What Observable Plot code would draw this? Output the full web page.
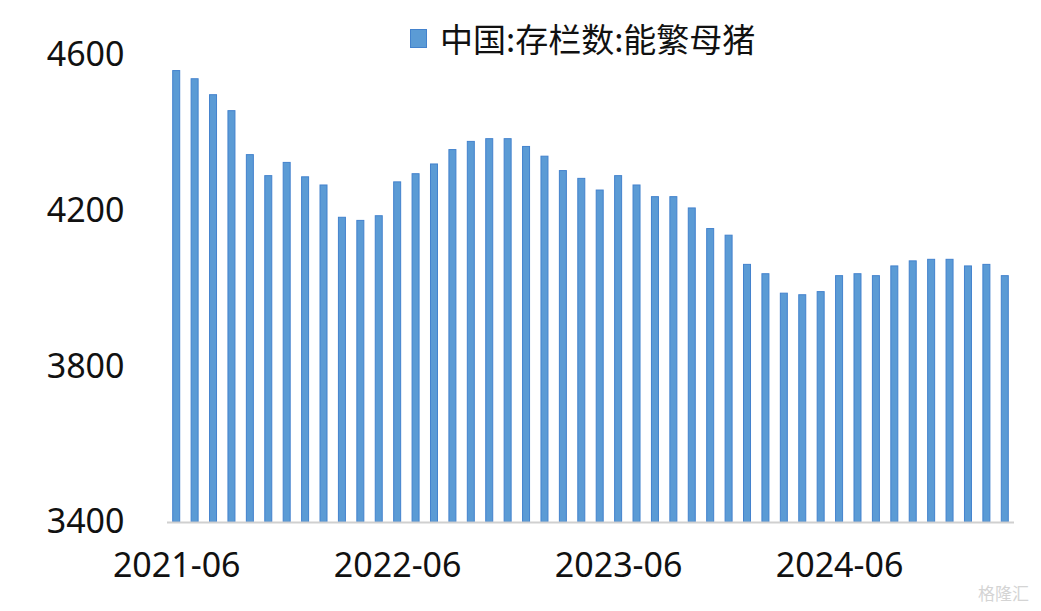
<!DOCTYPE html>
<html>
<head>
<meta charset="utf-8">
<script src="https://cdn.jsdelivr.net/npm/d3@7"></script>
<script src="https://cdn.jsdelivr.net/npm/@observablehq/plot@0.6"></script>
<style>
  html, body { margin: 0; padding: 0; background: #fff; }
  #wrap { position: relative; width: 1041px; height: 611px; font-family: "Noto Sans", "Noto Sans CJK SC", sans-serif; }
  #legend { position: absolute; left: 410px; top: 16px; display: flex; align-items: center; font-size: 33px; color: #111; line-height: 44px; }
  #legend .sw { width: 17px; height: 19px; background: #5b9bd5; border: 1px solid #4382cd; box-sizing: border-box; margin-right: 13px; }
  #legend .lab { font-family: "Noto Sans CJK SC", sans-serif; }
  #wm { position: absolute; right: 12px; bottom: 6px; font-size: 17px; color: #d4d4d4; font-family: "Noto Sans CJK SC", sans-serif; }
  svg { display: block; }
</style>
</head>
<body>
<div id="wrap">
  <div id="chart"></div>
  <div id="legend"><div class="sw"></div><span class="lab">中国:存栏数:能繁母猪</span></div>
  <div id="wm">格隆汇</div>
</div>
<script>
const months = [
  "2021-06","2021-07","2021-08","2021-09","2021-10","2021-11","2021-12",
  "2022-01","2022-02","2022-03","2022-04","2022-05","2022-06","2022-07","2022-08","2022-09","2022-10","2022-11","2022-12",
  "2023-01","2023-02","2023-03","2023-04","2023-05","2023-06","2023-07","2023-08","2023-09","2023-10","2023-11","2023-12",
  "2024-01","2024-02","2024-03","2024-04","2024-05","2024-06","2024-07","2024-08","2024-09","2024-10","2024-11","2024-12",
  "2025-01","2025-02","2025-03"
];
const sows = [
  4560, 4539, 4498, 4457, 4344, 4290, 4324,
  4287, 4266, 4183, 4175, 4187, 4274, 4295, 4320, 4357, 4378, 4385, 4385,
  4365, 4340, 4303, 4283, 4253, 4290, 4266, 4236, 4236, 4207, 4154, 4137,
  4062, 4038, 3988, 3984, 3992, 4033, 4038, 4033, 4058, 4071, 4075, 4075,
  4058, 4062, 4033
];
const xTickLabels = ["2021-06", "2022-06", "2023-06", "2024-06"];
const yTickValues = [3400, 3800, 4200, 4600];
const seriesName = "中国:存栏数:能繁母猪";

const data = months.map((m, i) => ({month: m, value: sows[i]}));
const yMin = yTickValues[0];
const yMax = yTickValues[yTickValues.length - 1];

const chart = Plot.plot({
  width: 1041,
  height: 611,
  marginLeft: 167,
  marginRight: 27,
  marginTop: 55,
  marginBottom: 89,
  style: {fontFamily: "'Noto Sans', 'Noto Sans CJK SC', sans-serif", color: "#111", background: "transparent"},
  x: {type: "band", domain: months, paddingInner: 0.62, paddingOuter: 0.31, round: false, axis: null},
  y: {domain: [yMin, yMax], axis: null},
  marks: [
    Plot.barY(data, {x: "month", y1: () => yMin, y2: "value", fill: "#5b9bd5", stroke: "#4382cd", strokeWidth: 1, title: d => `${d.month}: ${d.value}`}),
    Plot.ruleY([yMin], {stroke: "#d0d0d0", strokeWidth: 2}),
    Plot.axisX(xTickLabels, {tickSize: 0, tickPadding: 30, fontSize: 34, label: null, fill: "#111"}),
    Plot.axisY(yTickValues, {tickSize: 0, tickPadding: 43, fontSize: 34, label: null, fill: "#111", tickFormat: d => String(d)})
  ]
});
document.getElementById("chart").appendChild(chart);
document.getElementById("legend").querySelector(".lab").textContent = seriesName;
</script>
</body>
</html>
